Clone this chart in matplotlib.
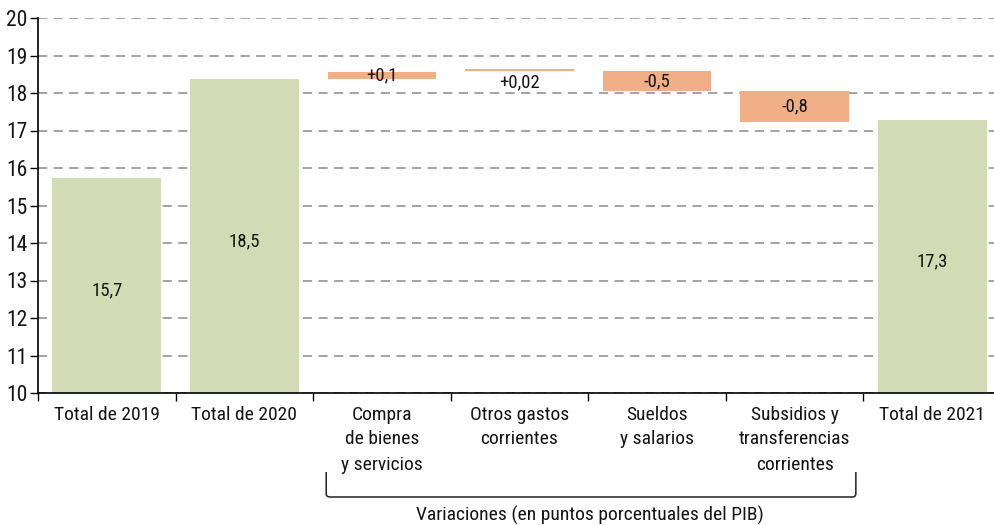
import matplotlib
matplotlib.use("Agg")
import matplotlib.pyplot as plt
from matplotlib.transforms import blended_transform_factory
from matplotlib.path import Path
from matplotlib.patches import PathPatch

plt.rcParams['font.family'] = ['Roboto Condensed', 'DejaVu Sans']
plt.rcParams['font.stretch'] = 'condensed'

categories = ["Total de 2019", "Total de 2020", "Compra\nde bienes\ny servicios",
              "Otros gastos\ncorrientes", "Sueldos\ny salarios",
              "Subsidios y\ntransferencias\ncorrientes", "Total de 2021"]
bar_bottoms = [10, 10, 18.37, 18.58, 18.05, 17.22, 10]
bar_tops = [15.72, 18.37, 18.57, 18.64, 18.58, 18.05, 17.27]
kinds = ["total", "total", "var", "var", "var", "var", "total"]
value_labels = ["15,7", "18,5", "+0,1", "+0,02", "-0,5", "-0,8", "17,3"]
yticks = list(range(10, 21))
bracket_text = "Variaciones (en puntos porcentuales del PIB)"

green = "#d3dbb4"
orange = "#f0af86"
txt = "#141414"

fig = plt.figure(figsize=(9.95, 5.25), dpi=100)
ax = fig.add_axes([38/995, 1-393/525, 963/995, (393-18)/525])

x = list(range(len(categories)))
heights = [t - b for t, b in zip(bar_tops, bar_bottoms)]
colors = [green if k == "total" else orange for k in kinds]
ax.bar(x, heights, bottom=bar_bottoms, width=0.79, color=colors, zorder=2)

for i, (lab, b, t) in enumerate(zip(value_labels, bar_bottoms, bar_tops)):
    if kinds[i] == "total":
        ypos = (b + t) / 2 - 0.13
        va = "center"
    elif i == 3:
        ypos = b - 0.05
        va = "top"
    else:
        ypos = (b + t) / 2
        va = "center"
    ax.text(i, ypos, lab, ha="center", va=va, fontsize=13.5, color=txt, zorder=3)

ax.set_xlim(-0.5, 6.5)
ax.set_ylim(10, 20)
ax.set_yticks(yticks)
ax.set_yticklabels([str(v) for v in yticks], fontsize=15.5)
ax.yaxis.grid(True, linestyle=(0, (6, 4.2)), color="#8a8a8a", linewidth=1.1, zorder=0)
ax.set_axisbelow(True)

ax.set_xticks(x)
ax.set_xticklabels(categories, fontsize=14, linespacing=1.5, va="top", color=txt)
ax.tick_params(axis="x", which="major", length=0, pad=9)
ax.set_xticks([i + 0.5 for i in range(-1, 6)], minor=True)
ax.tick_params(axis="x", which="minor", length=6, width=1, direction="out")
ax.tick_params(axis="y", length=6, width=1, direction="out", pad=1.5, labelcolor=txt)

for s in ["top", "right"]:
    ax.spines[s].set_visible(False)
ax.spines["left"].set_linewidth(1.2)
ax.spines["bottom"].set_linewidth(1.2)

# bracket
trans = blended_transform_factory(ax.transData, fig.transFigure)
x0, x1 = 1.595, 5.445
ytop = 1 - 472/525
ybot = 1 - 497/525
r = 0.03
rv = 0.006
verts = [(x0, ytop), (x0, ybot + rv), (x0, ybot), (x0 + r, ybot),
         (x1 - r, ybot), (x1, ybot), (x1, ybot + rv), (x1, ytop)]
codes = [Path.MOVETO, Path.LINETO, Path.CURVE3, Path.CURVE3,
         Path.LINETO, Path.CURVE3, Path.CURVE3, Path.LINETO]
pp = PathPatch(Path(verts, codes), transform=trans, fill=False, lw=1.1,
               edgecolor="#222222", clip_on=False)
fig.add_artist(pp)
fig.text(590/995, 1 - 515/525, bracket_text, ha="center", va="center",
         fontsize=14, color=txt)

fig.savefig("out.png", dpi=100)
